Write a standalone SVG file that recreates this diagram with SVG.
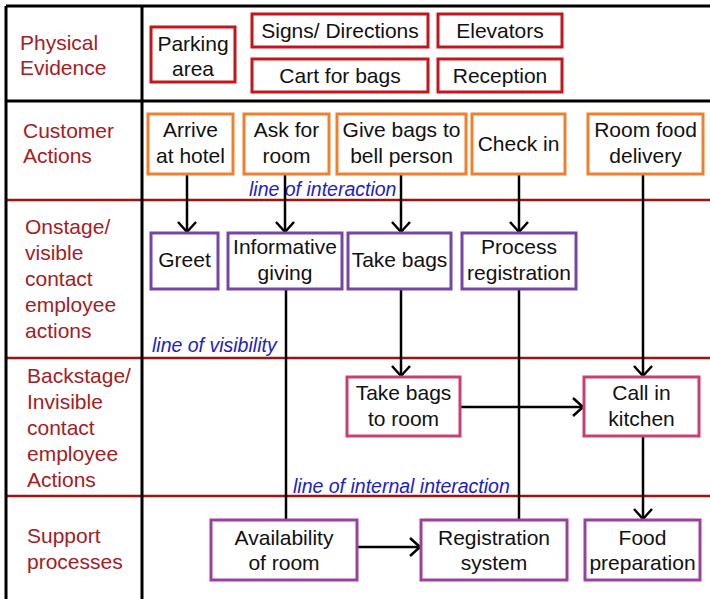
<svg xmlns="http://www.w3.org/2000/svg" width="710" height="599" viewBox="0 0 710 599">
  <style>
    text { font-family: "Liberation Sans", Arial, sans-serif; font-size: 21px; }
    .lbl { fill: #a3201f; }
    .nt { fill: #111; text-anchor: middle; }
    .ln { fill: #2020c8; font-style: italic; font-size: 19.5px; }
    .box { fill: #fff; stroke-width: 3; }
    .pe { stroke: #c4161c; }
    .ca { stroke: #f0802c; }
    .on { stroke: #7446a6; }
    .bs { stroke: #c8406e; }
    .sp { stroke: #9a40a0; }
    .lane { stroke: #a01212; stroke-width: 2.5; }
    .frame { stroke: #000; stroke-width: 3; fill: none; }
    .conn { stroke: #000; stroke-width: 2.5; fill: none; }
  </style>
  <defs>
    <marker id="arrow" markerUnits="userSpaceOnUse" markerWidth="24" markerHeight="24" viewBox="-12 -12 24 24" refX="0" refY="0" orient="auto" overflow="visible">
      <path d="M-10,-9 L0,0 L-10,9" fill="none" stroke="#000" stroke-width="2.5"/>
    </marker>
  </defs>

  <rect width="710" height="599" fill="#fff"/>

  <!-- swimlane frame -->
  <g id="lanes">
    <line class="lane" x1="6" y1="200" x2="710" y2="200"/>
    <line class="lane" x1="6" y1="358" x2="710" y2="358"/>
    <line class="lane" x1="6" y1="496" x2="710" y2="496"/>
    <line class="frame" x1="6" y1="6" x2="710" y2="6"/>
    <line class="frame" x1="6" y1="101" x2="710" y2="101"/>
    <line class="frame" x1="6" y1="6" x2="6" y2="599"/>
    <line class="frame" x1="142" y1="6" x2="142" y2="599"/>
  </g>

  <!-- lane titles -->
  <g id="lane-titles">
    <text class="lbl" x="20" y="50">Physical</text>
    <text class="lbl" x="20" y="75">Evidence</text>
    <text class="lbl" x="23" y="138">Customer</text>
    <text class="lbl" x="23" y="163">Actions</text>
    <text class="lbl" x="25" y="234">Onstage/</text>
    <text class="lbl" x="25" y="260">visible</text>
    <text class="lbl" x="25" y="286">contact</text>
    <text class="lbl" x="25" y="312">employee</text>
    <text class="lbl" x="25" y="338">actions</text>
    <text class="lbl" x="27" y="383">Backstage/</text>
    <text class="lbl" x="27" y="409">Invisible</text>
    <text class="lbl" x="27" y="435">contact</text>
    <text class="lbl" x="27" y="461">employee</text>
    <text class="lbl" x="27" y="487">Actions</text>
    <text class="lbl" x="27" y="543">Support</text>
    <text class="lbl" x="27" y="569">processes</text>
  </g>

  <!-- boundary line captions -->
  <g id="line-captions">
    <text class="ln" x="249" y="196">line of interaction</text>
    <text class="ln" x="152" y="352">line of visibility</text>
    <text class="ln" x="293" y="493">line of internal interaction</text>
  </g>

  <!-- connectors -->
  <g id="connectors">
    <line class="conn" x1="187" y1="174" x2="187" y2="232" marker-end="url(#arrow)"/>
    <line class="conn" x1="285" y1="174" x2="285" y2="232" marker-end="url(#arrow)"/>
    <line class="conn" x1="401" y1="174" x2="401" y2="232" marker-end="url(#arrow)"/>
    <line class="conn" x1="519" y1="174" x2="519" y2="232" marker-end="url(#arrow)"/>
    <line class="conn" x1="286" y1="289" x2="286" y2="520"/>
    <line class="conn" x1="401" y1="289" x2="401" y2="376" marker-end="url(#arrow)"/>
    <line class="conn" x1="519" y1="289" x2="519" y2="520"/>
    <line class="conn" x1="643" y1="174" x2="643" y2="376" marker-end="url(#arrow)"/>
    <line class="conn" x1="460" y1="407" x2="583" y2="407" marker-end="url(#arrow)"/>
    <line class="conn" x1="643" y1="436" x2="643" y2="519" marker-end="url(#arrow)"/>
    <line class="conn" x1="357" y1="547" x2="420" y2="547" marker-end="url(#arrow)"/>
  </g>

  <!-- physical evidence -->
  <g id="parking-area">
    <rect class="box pe" x="151" y="27" width="84" height="55"/>
    <text class="nt" x="193" y="51">Parking</text>
    <text class="nt" x="193" y="76">area</text>
  </g>
  <g id="signs-directions">
    <rect class="box pe" x="252" y="14" width="176" height="33"/>
    <text class="nt" x="340" y="38">Signs/ Directions</text>
  </g>
  <g id="cart-for-bags">
    <rect class="box pe" x="252" y="59" width="176" height="33"/>
    <text class="nt" x="340" y="83">Cart for bags</text>
  </g>
  <g id="elevators">
    <rect class="box pe" x="438" y="14" width="124" height="33"/>
    <text class="nt" x="500" y="38">Elevators</text>
  </g>
  <g id="reception">
    <rect class="box pe" x="438" y="59" width="124" height="33"/>
    <text class="nt" x="500" y="83">Reception</text>
  </g>

  <!-- customer actions -->
  <g id="arrive-at-hotel">
    <rect class="box ca" x="148" y="114" width="85" height="60"/>
    <text class="nt" x="190.5" y="137">Arrive</text>
    <text class="nt" x="190.5" y="163">at hotel</text>
  </g>
  <g id="ask-for-room">
    <rect class="box ca" x="244" y="114" width="85" height="60"/>
    <text class="nt" x="286.5" y="137">Ask for</text>
    <text class="nt" x="286.5" y="163">room</text>
  </g>
  <g id="give-bags">
    <rect class="box ca" x="337" y="114" width="129" height="60"/>
    <text class="nt" x="401.5" y="137">Give bags to</text>
    <text class="nt" x="401.5" y="163">bell person</text>
  </g>
  <g id="check-in">
    <rect class="box ca" x="472" y="114" width="93" height="60"/>
    <text class="nt" x="518.5" y="151">Check in</text>
  </g>
  <g id="room-food-delivery">
    <rect class="box ca" x="588" y="114" width="115" height="60"/>
    <text class="nt" x="645.5" y="137">Room food</text>
    <text class="nt" x="645.5" y="163">delivery</text>
  </g>

  <!-- onstage actions -->
  <g id="greet">
    <rect class="box on" x="151" y="233" width="67" height="56"/>
    <text class="nt" x="184.5" y="267">Greet</text>
  </g>
  <g id="informative-giving">
    <rect class="box on" x="228" y="233" width="114" height="56"/>
    <text class="nt" x="285" y="254">Informative</text>
    <text class="nt" x="285" y="280">giving</text>
  </g>
  <g id="take-bags">
    <rect class="box on" x="348" y="233" width="103" height="56"/>
    <text class="nt" x="399.5" y="267">Take bags</text>
  </g>
  <g id="process-registration">
    <rect class="box on" x="462" y="233" width="114" height="56"/>
    <text class="nt" x="519" y="254">Process</text>
    <text class="nt" x="519" y="280">registration</text>
  </g>

  <!-- backstage actions -->
  <g id="take-bags-to-room">
    <rect class="box bs" x="347" y="377" width="113" height="59"/>
    <text class="nt" x="403.5" y="400">Take bags</text>
    <text class="nt" x="403.5" y="426">to room</text>
  </g>
  <g id="call-in-kitchen">
    <rect class="box bs" x="584" y="377" width="115" height="59"/>
    <text class="nt" x="641.5" y="400">Call in</text>
    <text class="nt" x="641.5" y="426">kitchen</text>
  </g>

  <!-- support processes -->
  <g id="availability-of-room">
    <rect class="box sp" x="211" y="520" width="146" height="60"/>
    <text class="nt" x="284" y="545">Availability</text>
    <text class="nt" x="284" y="570">of room</text>
  </g>
  <g id="registration-system">
    <rect class="box sp" x="421" y="520" width="146" height="60"/>
    <text class="nt" x="494" y="545">Registration</text>
    <text class="nt" x="494" y="570">system</text>
  </g>
  <g id="food-preparation">
    <rect class="box sp" x="585" y="520" width="115" height="60"/>
    <text class="nt" x="642.5" y="545">Food</text>
    <text class="nt" x="642.5" y="570">preparation</text>
  </g>
</svg>
